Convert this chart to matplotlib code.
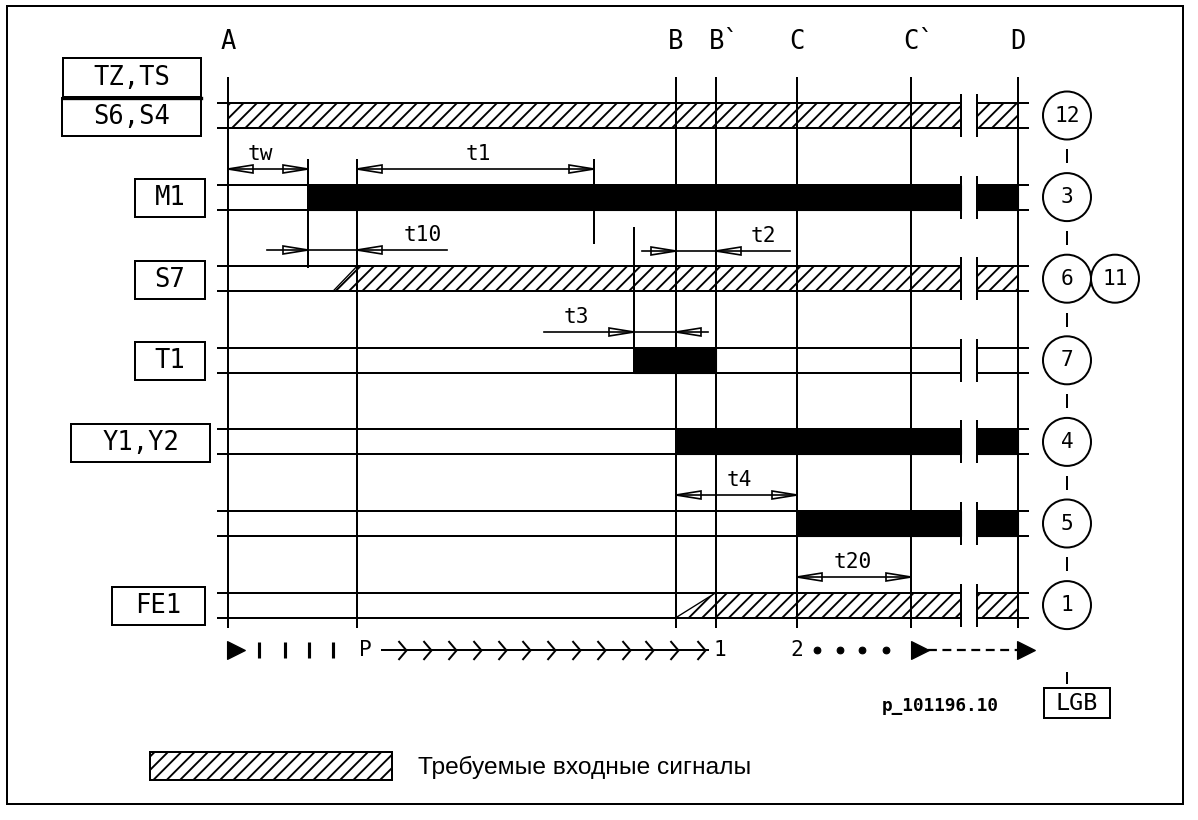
import matplotlib.pyplot as plt
from matplotlib.patches import Rectangle, Polygon, Circle
from matplotlib.path import Path

plt.rcParams['hatch.linewidth'] = 1.7

# time axis of the diagram (A = 0)
events = ["A", "B", "B`", "C", "C`", "D"]
event_t = [0, 448, 488, 569, 683, 790]
gap = [733, 749]

signals = ["S6,S4", "M1", "S7", "T1", "Y1,Y2", "", "FE1"]
terminals = ["12", "3", "6", "7", "4", "5", "1"]
# (start, end, kind, ramp start)
states = [
    [(0, 790, "hatch", None)],
    [(80, 790, "solid", None)],
    [(129, 790, "hatch", 105)],
    [(406, 488, "solid", None)],
    [(448, 790, "solid", None)],
    [(569, 790, "solid", None)],
    [(488, 790, "hatch", 448)],
]

# time marks: t, from level, to level
marks_t = [80, 129, 366, 406]
marks_y0 = [160, 160, 160, 228]
marks_y1 = [267, 627, 243, 373]

dim_names = ["tw", "t1", "t10", "t2", "t3", "t4", "t20"]
dim_from = [0, 129, 80, 448, 406, 448, 569]
dim_to = [80, 366, 129, 488, 448, 569, 683]
dim_out = [True, True, False, False, False, True, True]
dim_ext = [None, None, (39, 219), (414, 562), (316, 480), None, None]
dim_level = [169, 169, 250, 251, 332, 495, 577]
dim_text_t = [32, 250, 195, 535, 348, 511, 625]

# step sequence at the bottom
steps_t = [31, 57, 81, 105]
chev_t = [178, 203, 228, 253, 278, 302, 327, 352, 377, 402, 425, 450, 477]
dots_t = [589, 612, 634, 658]

mono = 'DejaVu Sans Mono'
LW = 1.8

fig = plt.figure(figsize=(1198 / 80, 820 / 80), dpi=80)
ax = fig.add_axes([0, 0, 1, 1])
ax.set_xlim(-228, 970)
ax.set_ylim(820, 0)
ax.axis('off')


def row_y(i):
    return 115.5 + 81.6 * i


half = 12.5

# outer frame
ax.add_patch(Rectangle((-221, 6), 1183 - 7, 804 - 6, fill=False, lw=LW, ec='black'))

# row lines, fills and break marks
for i, name in enumerate(signals):
    yc = row_y(i)
    for y in (yc - half, yc + half):
        ax.plot([-10, gap[0]], [y, y], color='black', lw=LW)
        ax.plot([gap[1], 800], [y, y], color='black', lw=LW)
    for g in gap:
        ax.plot([g, g], [yc - half - 8, yc + half + 8], color='black', lw=LW)
    for start, end, kind, ramp in states[i]:
        pieces = [(start, end)]
        if end > gap[0]:
            pieces = [(start, gap[0]), (gap[1], end)]
        for a, b in pieces:
            if kind == "solid":
                ax.add_patch(Rectangle((a, yc - half), b - a, 2 * half,
                                       fc='black', ec='black', lw=1))
            else:
                ax.add_patch(Rectangle((a, yc - half), b - a, 2 * half,
                                       fc='white', ec='black', lw=0, hatch='//'))
        if ramp is not None:
            ax.add_patch(Polygon([(ramp, yc + half), (start, yc - half), (start, yc + half)],
                                 closed=True, fc='white', ec='black', lw=0, hatch='//'))
            ax.plot([ramp, start], [yc + half, yc - half], color='black', lw=1.2)

    # label boxes
    if name:
        w = 23 * len(name) + 24
        right = -23 if len(name) < 5 else -27
        if name == "Y1,Y2":
            right = -18
        ax.add_patch(Rectangle((right - w, yc - 18), w, 38, fill=False, ec='black', lw=LW))
        ax.text(right - w / 2, yc + 1, name, family=mono, fontsize=23,
                ha='center', va='center')

    # terminal circles
    ax.add_patch(Circle((839, yc), 24, fill=False, ec='black', lw=LW))
    ax.text(839, yc, terminals[i], family=mono, fontsize=19, ha='center', va='center')
    if i < len(signals) - 1:
        mid = (yc + row_y(i + 1)) / 2
        ax.plot([839, 839], [mid - 6, mid + 6], color='black', lw=LW)

# extra box above S6,S4
ax.add_patch(Rectangle((-165, 58), 138, 39, fill=False, ec='black', lw=LW))
ax.text(-96, 78, "TZ,TS", family=mono, fontsize=23, ha='center', va='center')
ax.plot([-165, -27], [97.5, 97.5], color='black', lw=3)

# second terminal on S7 row
ax.add_patch(Circle((887, row_y(2)), 24, fill=False, ec='black', lw=LW))
ax.text(887, row_y(2), "11", family=mono, fontsize=19, ha='center', va='center')

# event lines
for name, t in zip(events, event_t):
    ax.plot([t, t], [78, 627], color='black', lw=LW)
    ax.text(t + (8 if len(name) > 1 else 0), 42, name, family=mono, fontsize=23,
            ha='center', va='center')

for t, y0, y1 in zip(marks_t, marks_y0, marks_y1):
    ax.plot([t, t], [y0, y1], color='black', lw=LW)


def head(tip, y, d):
    ax.add_patch(Polygon([(tip, y), (tip - d * 25, y - 4), (tip - d * 25, y + 4)],
                         closed=True, fill=False, ec='black', lw=1.5))


for name, a, b, out, ext, y, tx in zip(dim_names, dim_from, dim_to, dim_out,
                                        dim_ext, dim_level, dim_text_t):
    if out:
        ax.plot([a, b], [y, y], color='black', lw=1.5)
        head(a, y, -1)
        head(b, y, 1)
    else:
        ax.plot(list(ext), [y, y], color='black', lw=1.5)
        head(a, y, 1)
        head(b, y, -1)
    ax.text(tx, y - 15, name, family=mono, fontsize=19, ha='center', va='center')

# bottom step sequence
yb = 650
ax.plot([8], [yb], marker='>', ms=16, color='black', ls='none')
ax.plot(steps_t, [yb] * len(steps_t), marker='|', ms=14, mew=2.8, color='black', ls='none')
ax.text(137, yb, "P", family=mono, fontsize=19, ha='center', va='center')
ax.plot([154, 480], [yb, yb], color='black', lw=LW)
chev = Path([(-0.85, 1), (0, 0), (-0.85, -1)], [Path.MOVETO, Path.LINETO, Path.LINETO])
ax.plot(chev_t, [yb] * len(chev_t), marker=chev, ms=17, mfc='none', mec='black',
        mew=1.8, ls='none')
ax.text(492, yb, "1", family=mono, fontsize=19, ha='center', va='center')
ax.text(569, yb, "2", family=mono, fontsize=19, ha='center', va='center')
ax.plot(dots_t, [yb] * len(dots_t), marker='o', ms=6, color='black', ls='none')
ax.plot([700, 790], [yb, yb], color='black', lw=2, ls=(0, (4, 2.5)))
ax.plot([692, 798], [yb, yb], marker='>', ms=16, color='black', ls='none')

# drawing number and LGB
ax.text(712, 706, "p_101196.10", family=mono, fontsize=16, fontweight='bold',
        ha='center', va='center')
ax.plot([839, 839], [673, 683], color='black', lw=LW)
ax.add_patch(Rectangle((816, 688), 66, 30, fill=False, ec='black', lw=LW))
ax.text(849, 704, "LGB", family=mono, fontsize=21, ha='center', va='center')

# legend
ax.add_patch(Rectangle((-78, 752), 242, 28, fc='white', ec='black', lw=LW, hatch='//'))
ax.text(190, 767, "Требуемые входные сигналы", family='Liberation Sans', fontsize=22,
        ha='left', va='center')

fig.savefig('out.png', dpi=80)
